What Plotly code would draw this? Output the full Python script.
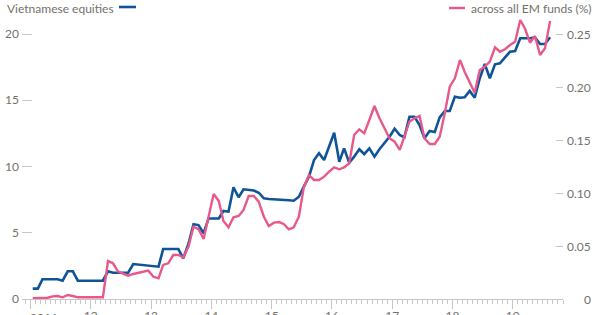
import plotly.graph_objects as go
import pandas as pd

# Monthly observations, Jan 2011 - Aug 2019
dates = pd.date_range("2011-01-01", periods=104, freq="MS") + pd.Timedelta(days=14)

vietnam_equities = [
    0.78, 0.78, 1.49, 1.49, 1.49, 1.49, 1.38, 2.09, 2.09, 1.38,
    1.38, 1.38, 1.38, 1.38, 1.38, 2.09, 1.98, 1.98, 1.98, 1.98,
    2.64, 2.60, 2.54, 2.49, 2.45, 2.44, 3.77, 3.77, 3.77, 3.77,
    3.07, 4.15, 5.64, 5.58, 4.96, 6.08, 6.08, 6.08, 6.64, 6.59,
    8.43, 7.68, 8.28, 8.26, 8.19, 8.02, 7.60, 7.55, 7.51, 7.47,
    7.45, 7.45, 7.42, 7.72, 8.48, 9.23, 10.49, 11.00, 10.49, 11.49,
    12.55, 10.36, 11.37, 10.29, 10.74, 11.30, 10.94, 11.37, 10.74, 11.30,
    11.75, 12.25, 12.85, 12.38, 12.20, 13.76, 13.76, 13.13, 12.13, 12.68,
    12.60, 13.71, 14.19, 14.19, 15.27, 15.19, 15.22, 15.70, 15.19, 16.66,
    17.74, 16.66, 17.71, 17.79, 18.24, 18.66, 18.72, 19.68, 19.68, 19.68,
    19.75, 19.25, 19.25, 19.75,
]

em_funds_pct = [
    0.0007, 0.0007, 0.0009, 0.0012, 0.0025, 0.0028, 0.0016, 0.0038, 0.0028, 0.0016,
    0.0016, 0.0016, 0.0016, 0.0016, 0.0016, 0.0358, 0.0337, 0.0258, 0.0236, 0.0220,
    0.0236, 0.0248, 0.0255, 0.0267, 0.0210, 0.0195, 0.0321, 0.0337, 0.0415, 0.0415,
    0.0393, 0.0493, 0.0682, 0.0660, 0.0566, 0.0774, 0.0991, 0.0925, 0.0736, 0.0676,
    0.0771, 0.0783, 0.0840, 0.0972, 0.0972, 0.0918, 0.0776, 0.0689, 0.0720, 0.0726,
    0.0708, 0.0658, 0.0676, 0.0776, 0.1054, 0.1170, 0.1123, 0.1123, 0.1154, 0.1201,
    0.1242, 0.1224, 0.1242, 0.1280, 0.1547, 0.1601, 0.1563, 0.1689, 0.1821, 0.1708,
    0.1604, 0.1516, 0.1484, 0.1406, 0.1531, 0.1673, 0.1705, 0.1726, 0.1516, 0.1462,
    0.1462, 0.1531, 0.1752, 0.2003, 0.2082, 0.2255, 0.2144, 0.2050, 0.1946, 0.2160,
    0.2192, 0.2239, 0.2375, 0.2333, 0.2356, 0.2396, 0.2427, 0.2632, 0.2554, 0.2418,
    0.2481, 0.2302, 0.2365, 0.2623,
]

year_ticks = ["2011-01-01", "2012-01-01", "2013-01-01", "2014-01-01", "2015-01-01",
              "2016-01-01", "2017-01-01", "2018-01-01", "2019-01-01"]
year_labels = ["", "12", "13", "14", "15", "16", "17", "18", "19"]
first_year_label = "2011"

left_ticks = [0, 5, 10, 15, 20]
right_ticks = [0, 0.05, 0.10, 0.15, 0.20, 0.25]
right_labels = ["0", "0.05", "0.10", "0.15", "0.20", "0.25"]

BLUE = "#0f5499"
PINK = "#e8588a"
GREY_TXT = "#75706c"
GREY_LINE = "#cac6c2"
FONT = "Lato"
FS = 12

W, H = 600, 315
ML, MR, MT, MB = 22, 37, 15, 16
plot_h = H - MT - MB
left_max = plot_h / 13.25
right_max = left_max * 0.0125


def px_x(px):
    return (px - ML) / (W - ML - MR)


def px_y(py):
    return (H - MB - py) / plot_h


fig = go.Figure()
fig.add_trace(go.Scatter(x=dates, y=em_funds_pct, yaxis="y2", mode="lines",
                         line=dict(color=PINK, width=2.4), name="across all EM funds (%)"))
fig.add_trace(go.Scatter(x=dates, y=vietnam_equities, yaxis="y", mode="lines",
                         line=dict(color=BLUE, width=2.6), name="Vietnamese equities"))

fig.update_layout(
    width=W, height=H,
    margin=dict(l=ML, r=MR, t=MT, b=MB, autoexpand=False),
    paper_bgcolor="white", plot_bgcolor="white",
    showlegend=False,
    font=dict(family=FONT, size=FS, color=GREY_TXT),
    xaxis=dict(
        type="date", automargin=False,
        range=["2010-11-11", "2019-11-01"],
        tickvals=year_ticks, ticktext=year_labels,
        ticks="outside", ticklen=9, tickwidth=1, tickcolor=GREY_LINE,
        showline=True, linecolor=GREY_LINE, linewidth=1,
        showgrid=False, zeroline=False,
        tickfont=dict(family=FONT, size=FS, color=GREY_TXT),
        ticklabelstandoff=-3,
        minor=dict(dtick="M1", tick0="2011-01-01", ticks="outside", ticklen=4,
                   tickcolor=GREY_LINE, tickwidth=1, showgrid=False),
    ),
    yaxis=dict(
        range=[0, left_max], automargin=False,
        tickvals=left_ticks,
        ticks="inside", ticklen=10, tickcolor=GREY_LINE, tickwidth=1,
        showgrid=False, zeroline=False, showline=False,
        tickfont=dict(family=FONT, size=FS, color=GREY_TXT),
        ticklabelstandoff=2,
    ),
    yaxis2=dict(
        range=[0, right_max], automargin=False,
        overlaying="y", side="right",
        tickvals=right_ticks,
        showticklabels=False,
        ticks="inside", ticklen=7, tickcolor=GREY_LINE, tickwidth=1,
        showgrid=False, zeroline=False, showline=False,
    ),
)

# right axis labels, right-aligned like the original
for v, lab in zip(right_ticks, right_labels):
    fig.add_annotation(xref="paper", yref="y2", x=px_x(593), y=v, text=lab,
                       showarrow=False, xanchor="right", yanchor="middle",
                       font=dict(family=FONT, size=FS, color=GREY_TXT))

# first year label
fig.add_annotation(xref="paper", yref="paper", x=px_x(28), y=px_y(308), text=first_year_label,
                   showarrow=False, xanchor="left", yanchor="top",
                   font=dict(family=FONT, size=FS, color=GREY_TXT))

# key labels at top
fig.add_annotation(xref="paper", yref="paper", x=px_x(5), y=px_y(8.5), text="Vietnamese equities",
                   showarrow=False, xanchor="left", yanchor="middle",
                   font=dict(family=FONT, size=FS, color=GREY_TXT))
fig.add_annotation(xref="paper", yref="paper", x=px_x(594), y=px_y(8.5), text="across all EM funds (%)",
                   showarrow=False, xanchor="right", yanchor="middle",
                   font=dict(family=FONT, size=FS, color=GREY_TXT))

fig.add_shape(type="line", xref="paper", yref="paper",
              x0=px_x(119), x1=px_x(136), y0=px_y(7), y1=px_y(7),
              line=dict(color=BLUE, width=2.6))
fig.add_shape(type="line", xref="paper", yref="paper",
              x0=px_x(449), x1=px_x(465), y0=px_y(8), y1=px_y(8),
              line=dict(color=PINK, width=2.4))

fig.write_html("out.html")
